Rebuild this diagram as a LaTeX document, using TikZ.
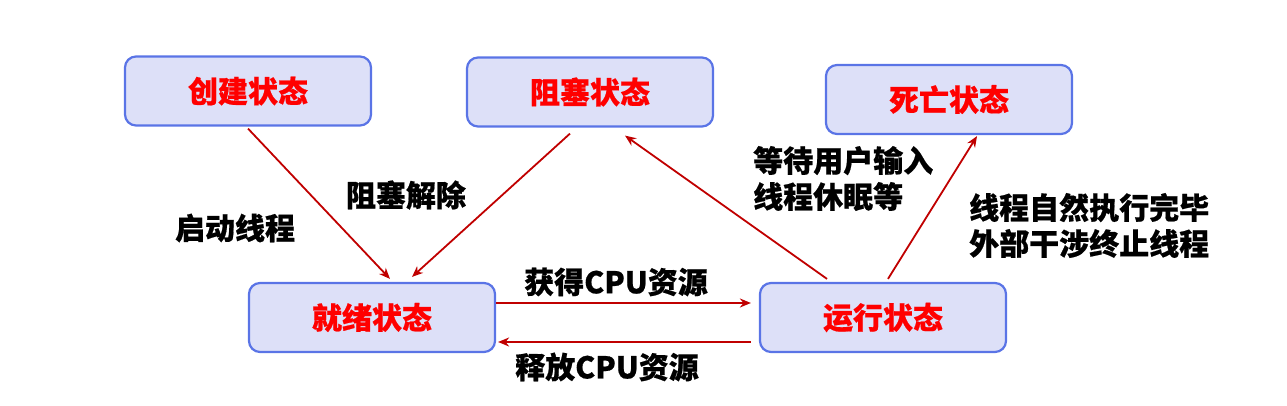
\documentclass[tikz,border=0pt]{standalone}
\usepackage{fontspec}
\setmainfont{Noto Sans CJK SC}[BoldFeatures={FakeBold=0.6}]
\usetikzlibrary{arrows.meta}
\definecolor{boxfill}{HTML}{DDE0F8}
\definecolor{boxline}{HTML}{5A74E6}
\definecolor{arrowred}{HTML}{C00000}
\definecolor{txtred}{HTML}{FF0000}
\tikzset{
  statebox/.style={draw=boxline, fill=boxfill, line width=2.2pt, rounded corners=11pt,
    minimum width=246pt, minimum height=69pt, inner sep=0pt,
    text=txtred, font=\fontsize{30}{36}\selectfont\bfseries},
  lbl/.style={text=black, font=\fontsize{30}{36}\selectfont\bfseries, inner sep=0pt, align=left},
  conn/.style={draw=arrowred, line width=1.8pt, -{Stealth[length=11pt,width=9pt]}},
}
\begin{document}
\begin{tikzpicture}[x=1pt,y=1pt]
\useasboundingbox (0,0) rectangle (1287,406);
\node[statebox] (create) at (248,315) {创建状态};
\node[statebox] (block) at (590,314) {阻塞状态};
\node[statebox] (dead) at (949,306.5) {死亡状态};
\node[statebox] (ready) at (372,88.5) {就绪状态};
\node[statebox] (run) at (883,88.5) {运行状态};

\draw[conn] ([yshift=-2pt]create.south) -- ([xshift=18pt,yshift=3pt]ready.north);
\draw[conn] ([xshift=-20pt,yshift=-6pt]block.south) -- ([xshift=40pt,yshift=5pt]ready.north);
\draw[conn] ([xshift=-56pt,yshift=3pt]run.north) -- ([xshift=35pt,yshift=-8pt]block.south);
\draw[conn] ([xshift=5pt,yshift=3pt]run.north) -- ([xshift=28pt,yshift=-1pt]dead.south);
\draw[conn] ([yshift=14.5pt]ready.east) -- ([xshift=-8pt,yshift=14.5pt]run.west);
\draw[conn] ([xshift=-8pt,yshift=-24.5pt]run.west) -- ([xshift=2pt,yshift=-24.5pt]ready.east);

\node[lbl] (l1) at (235,178) {启动线程};
\node[lbl] (l2) at (406,211) {阻塞解除};
\node[lbl] (l3) at (616,124) {获得CPU资源};
\node[lbl] (l4) at (607,39) {释放CPU资源};
\node[lbl, anchor=west] (l5) at (753,227.5) {等待用户输入\\线程休眠等};
\node[lbl, anchor=west] (l6) at (969,180.5) {线程自然执行完毕\\外部干涉终止线程};
\end{tikzpicture}
\end{document}
